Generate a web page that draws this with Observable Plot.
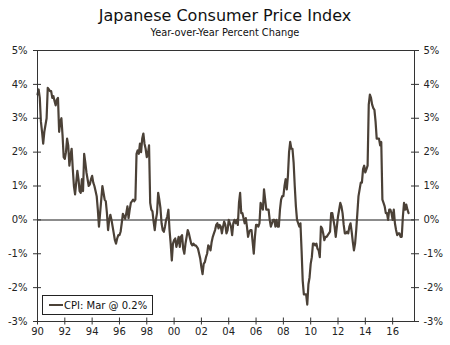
<!DOCTYPE html>
<html><head><meta charset="utf-8">
<script src="https://cdn.jsdelivr.net/npm/d3@7"></script>
<script src="https://cdn.jsdelivr.net/npm/@observablehq/plot@0.6"></script>
<style>
body{margin:0;background:#fff;font-family:"DejaVu Sans",Verdana,sans-serif;}
#wrap{position:relative;width:450px;height:345px;overflow:hidden;}
#title{position:absolute;top:7px;left:0;width:450px;text-align:center;font-size:16px;color:#111;line-height:18px;}
#subtitle{position:absolute;top:27px;left:0;width:450px;text-align:center;font-size:9.8px;color:#111;line-height:11px;}
#chart{position:absolute;top:40px;left:0;}
#legend{position:absolute;left:42px;top:295px;width:109px;height:18px;border:1px solid #222;background:#fff;display:flex;align-items:center;font-size:10px;color:#111;}
#legend .sw{display:inline-block;width:14px;height:2.5px;background:#4b4137;margin-left:6px;margin-right:1px;}
</style></head>
<body>
<div id="wrap">
  <div id="title"></div>
  <div id="subtitle"></div>
  <div id="chart"></div>
  <div id="legend"><span class="sw"></span><span id="legtext"></span></div>
</div>
<script>
const titleText = "Japanese Consumer Price Index";
const subtitleText = "Year-over-Year Percent Change";
const legendLabel = "CPI: Mar @ 0.2%";
const startYear = 1990;

// Monthly year-over-year % change, Jan 1990 – Mar 2017
const cpi1990s = [
  3.7, 3.85, 3.6, 2.9, 2.6, 2.25, 2.6, 2.8, 3.0, 3.9, 3.85, 3.8,
  3.8, 3.6, 3.65, 3.5, 3.38, 3.55, 3.6, 2.6, 2.9, 3.0, 2.5, 1.85,
  1.8, 2.0, 2.4, 2.2, 1.6, 1.9, 2.1, 1.5, 1.0, 0.75, 1.1, 1.45,
  1.2, 0.85, 0.8, 1.2, 0.85, 1.95, 1.7, 1.4, 1.2, 1.0, 1.05, 1.2,
  1.3, 1.1, 1.0, 0.85, 0.7, 0.3, -0.2, 0.2, 0.6, 1.0, 0.8, 0.6,
  0.55, 0.2, -0.3, 0.0, 0.15, 0.0, -0.2, -0.4, -0.6, -0.7, -0.55, -0.45,
  -0.45, -0.35, -0.1, 0.18, 0.1, 0.03, 0.2, 0.4, 0.05, 0.3, 0.5, 0.55,
  0.6, 0.55, 0.6, 1.95, 2.05, 1.95, 2.25, 2.0, 2.4, 2.55, 2.25, 2.1,
  1.85, 1.95, 2.2, 0.5, 0.3, 0.25, -0.05, -0.3, 0.0, 0.2, 0.8, 0.6,
  0.35, -0.1, -0.3, -0.35, -0.2, 0.0, 0.1, 0.3, -0.3, -0.7, -1.2, -0.7
];
const cpi2000s = [
  -0.6, -0.55, -0.8, -0.65, -0.5, -0.8, -0.5, -0.45, -0.85, -1.0, -0.7, -0.5,
  -0.3, -0.4, -0.55, -0.7, -0.75, -0.7, -0.75, -0.75, -0.8, -0.85, -1.0, -1.15,
  -1.4, -1.6, -1.3, -1.25, -1.1, -1.0, -0.75, -0.8, -0.9, -0.65, -0.5, -0.4,
  -0.3, -0.15, -0.1, -0.25, -0.15, -0.2, -0.4, -0.2, -0.05, -0.15, -0.4, -0.3,
  0.0, -0.1, -0.2, -0.45, -0.1, 0.0, -0.1, 0.0, -0.15, 0.5, 0.8, 0.2,
  0.2, 0.05, -0.1, 0.05, -0.2, -0.5, -0.35, -0.3, -0.3, -0.65, -1.0, -0.5,
  -0.15, -0.15, -0.2, -0.1, 0.5, 0.4, 0.3, 0.9, 0.6, 0.3, 0.3, 0.3,
  0.0, -0.2, -0.1, 0.0, 0.0, -0.2, 0.0, -0.2, -0.2, 0.3, 0.6, 0.7,
  0.7, 1.0, 1.2, 0.9, 1.3, 2.0, 2.3, 2.1, 2.1, 1.7, 1.0, 0.4,
  0.0, -0.1, -0.2, -0.1, -0.9, -1.8, -2.2, -2.2, -2.2, -2.5, -1.9, -1.7
];
const cpi2010s = [
  -1.3, -1.1, -0.7, -0.7, -0.75, -0.7, -0.85, -0.9, -1.1, -0.2, -0.25, -0.4,
  -0.6, -0.5, -0.5, -0.45, -0.4, -0.35, 0.2, 0.2, 0.0, -0.2, -0.5, -0.2,
  0.1, 0.3, 0.5, 0.4, 0.2, -0.15, -0.4, -0.4, -0.35, -0.4, -0.2, -0.1,
  -0.35, -0.65, -0.9, -0.7, -0.3, 0.2, 0.7, 0.9, 1.1, 1.1, 1.5, 1.6,
  1.4, 1.5, 1.6, 3.4, 3.7, 3.6, 3.4, 3.3, 3.25, 2.9, 2.4, 2.4,
  2.4, 2.2, 2.3, 0.6, 0.5, 0.4, 0.2, 0.2, 0.0, 0.3, 0.3, 0.2,
  0.0, 0.3, -0.1, -0.3, -0.45, -0.4, -0.4, -0.5, -0.5, 0.1, 0.5, 0.3,
  0.45, 0.3, 0.2
];

const yTicks = [-3, -2, -1, 0, 1, 2, 3, 4, 5];
const xTicks = [1990, 1992, 1994, 1996, 1998, 2000, 2002, 2004, 2006, 2008, 2010, 2012, 2014, 2016];
const xTickLabels = ["90", "92", "94", "96", "98", "00", "02", "04", "06", "08", "10", "12", "14", "16"];

const values = [...cpi1990s, ...cpi2000s, ...cpi2010s];
const data = values.map((v, i) => ({t: startYear + i / 12, v}));

document.getElementById("title").textContent = titleText;
document.getElementById("subtitle").textContent = subtitleText;
document.getElementById("legtext").textContent = legendLabel;

const plot = Plot.plot({
  width: 450, height: 305,
  marginTop: 10, marginBottom: 24, marginLeft: 37, marginRight: 36,
  x: {domain: [1990, 2017.6], label: null},
  y: {domain: [-3, 5], label: null},
  style: {fontFamily: "DejaVu Sans, Verdana, sans-serif", fontSize: "10px", color: "#222", background: "#fff"},
  marks: [
    Plot.ruleY([0], {stroke: "#666", strokeWidth: 1.5}),
    Plot.lineY(data, {x: "t", y: "v", stroke: "#4b4137", strokeWidth: 2.2}),
    Plot.frame({stroke: "#333"}),
    Plot.axisY({anchor: "left", ticks: yTicks, tickFormat: d => d + "%", tickSize: 8, dx: 4, tickPadding: 6, label: null, stroke: "#333"}),
    Plot.axisY({anchor: "right", ticks: yTicks, tickFormat: d => d + "%", tickSize: 8, dx: -4, tickPadding: 5, label: null, stroke: "#333"}),
    Plot.axisX({ticks: xTicks, tickFormat: d => xTickLabels[xTicks.indexOf(d)], tickSize: 7, dy: -3.5, tickPadding: 3, label: null, stroke: "#333"})
  ]
});
document.getElementById("chart").appendChild(plot);
</script>
</body></html>
